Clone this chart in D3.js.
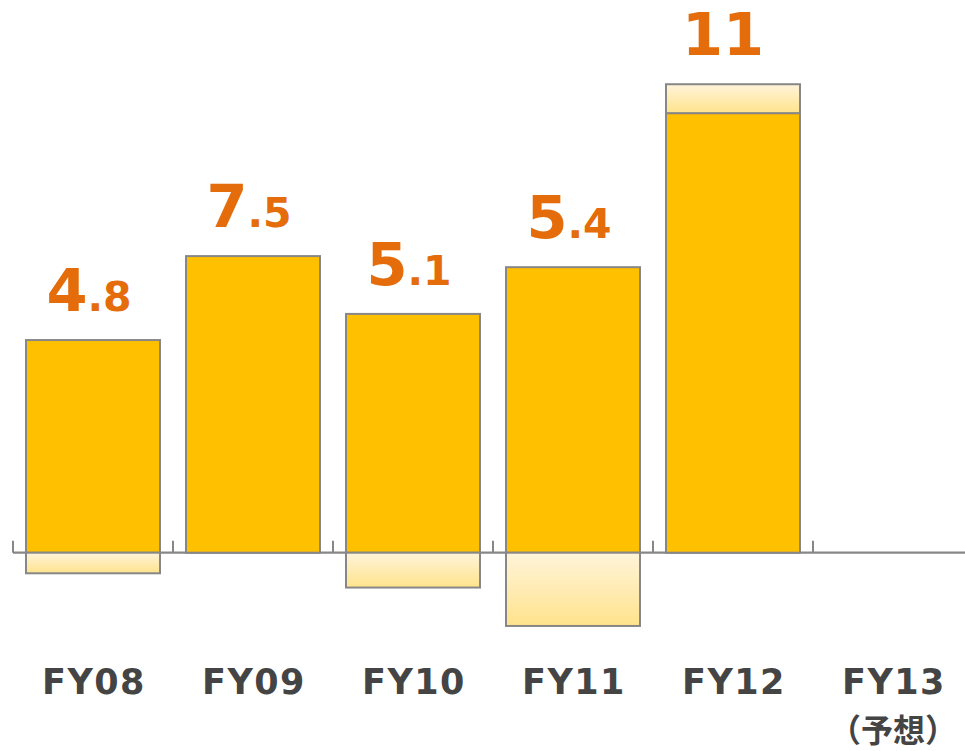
<!DOCTYPE html>
<html>
<head>
<meta charset="utf-8">
<script src="https://cdnjs.cloudflare.com/ajax/libs/d3/7.8.5/d3.min.js"></script>
<style>
  body { margin: 0; background: white; }
  svg { display: block; }
</style>
</head>
<body>
<svg width="965" height="751"></svg>
<script>
const svg = d3.select('svg');
const width = +svg.attr('width');
const height = +svg.attr('height');

// data
const categories = ['FY08', 'FY09', 'FY10', 'FY11', 'FY12', 'FY13'];
const subLabels  = ['', '', '', '', '', '（予想）'];
const posValues  = [5.37, 7.49, 6.03, 7.21, 11.10, null];
const negValues  = [0.52, 0, 0.88, 1.85, 0, null];
const extraValues = [0, 0, 0, 0, 0.73, null];
const valueLabels = ['4.8', '7.5', '5.1', '5.4', '11', null];

const axisY = 552.7;
const pxPerUnit = 39.6;

const xScale = d3.scaleBand()
    .domain(categories)
    .range([13, 973])
    .paddingInner(0.1625)
    .paddingOuter(0.08125);

const yScale = d3.scaleLinear()
    .domain([-2, 14])
    .range([axisY + 2 * pxPerUnit, axisY - 14 * pxPerUnit]);

const defs = svg.append('defs');
const grad = defs.append('linearGradient')
    .attr('id', 'lightGrad')
    .attr('x1', 0).attr('y1', 0).attr('x2', 0).attr('y2', 1);
grad.append('stop').attr('offset', '0%').attr('stop-color', '#fff4da');
grad.append('stop').attr('offset', '100%').attr('stop-color', '#ffe38c');

const data = categories.map((c, i) => ({
    cat: c, pos: posValues[i], neg: negValues[i], extra: extraValues[i], label: valueLabels[i], sub: subLabels[i]
}));
const withData = data.filter(d => d.pos != null);

const stroke = '#878787';

// axis line and ticks
const step = xScale.step();
const half = step * xScale.paddingInner() / 2;
svg.append('line')
    .attr('x1', 13).attr('x2', width)
    .attr('y1', yScale(0)).attr('y2', yScale(0))
    .attr('stroke', stroke).attr('stroke-width', 2.2);

svg.selectAll('.tick')
    .data(categories)
    .enter()
    .append('line')
    .attr('class', 'tick')
    .attr('x1', d => xScale(d) - half)
    .attr('x2', d => xScale(d) - half)
    .attr('y1', yScale(0))
    .attr('y2', yScale(0) - 12)
    .attr('stroke', stroke).attr('stroke-width', 2);

// main bars
svg.selectAll('.pos')
    .data(withData)
    .enter()
    .append('rect')
    .attr('class', 'pos')
    .attr('x', d => xScale(d.cat))
    .attr('width', xScale.bandwidth())
    .attr('y', d => yScale(d.pos))
    .attr('height', d => yScale(0) - yScale(d.pos))
    .attr('fill', '#ffc000')
    .attr('stroke', stroke).attr('stroke-width', 2);

// light top segment
svg.selectAll('.extra')
    .data(withData.filter(d => d.extra > 0))
    .enter()
    .append('rect')
    .attr('class', 'extra')
    .attr('x', d => xScale(d.cat))
    .attr('width', xScale.bandwidth())
    .attr('y', d => yScale(d.pos + d.extra))
    .attr('height', d => yScale(d.pos) - yScale(d.pos + d.extra))
    .attr('fill', 'url(#lightGrad)')
    .attr('stroke', stroke).attr('stroke-width', 2);

// light negative segment
svg.selectAll('.neg')
    .data(withData.filter(d => d.neg > 0))
    .enter()
    .append('rect')
    .attr('class', 'neg')
    .attr('x', d => xScale(d.cat))
    .attr('width', xScale.bandwidth())
    .attr('y', yScale(0))
    .attr('height', d => yScale(-d.neg) - yScale(0))
    .attr('fill', 'url(#lightGrad)')
    .attr('stroke', stroke).attr('stroke-width', 2);

// value labels
const vl = svg.selectAll('.val')
    .data(withData)
    .enter()
    .append('text')
    .attr('class', 'val')
    .attr('x', d => xScale(d.cat) + xScale.bandwidth() / 2 - (d.label.includes('.') ? 4 : 10))
    .attr('y', d => yScale(d.pos + d.extra) - 29)
    .attr('text-anchor', 'middle')
    .attr('fill', '#e46c0a')
    .attr('font-family', 'DejaVu Sans')
    .attr('font-weight', 'bold');

vl.each(function(d) {
    const parts = d.label.split('.');
    const t = d3.select(this);
    t.append('tspan').attr('font-size', 59)
        .text(parts[0]);
    if (parts.length > 1) {
        t.append('tspan').attr('font-size', 41).text('.' + parts[1]);
    }
});

// category labels
svg.selectAll('.cat')
    .data(data)
    .enter()
    .append('text')
    .attr('class', 'cat')
    .attr('x', d => xScale(d.cat) + xScale.bandwidth() / 2 + 1)
    .attr('y', 694)
    .attr('text-anchor', 'middle')
    .attr('fill', '#444444')
    .attr('font-family', 'DejaVu Sans')
    .attr('font-weight', 'bold')
    .attr('font-size', 35)
    .attr('letter-spacing', 1.5)
    .text(d => d.cat);

svg.selectAll('.sub')
    .data(data.filter(d => d.sub))
    .enter()
    .append('text')
    .attr('class', 'sub')
    .attr('x', d => xScale(d.cat) + xScale.bandwidth() / 2)
    .attr('y', 742)
    .attr('text-anchor', 'middle')
    .attr('fill', '#444444')
    .attr('font-family', 'Noto Sans CJK JP')
    .attr('font-weight', 'bold')
    .attr('font-size', 32)
    .text(d => d.sub);
</script>
</body>
</html>
